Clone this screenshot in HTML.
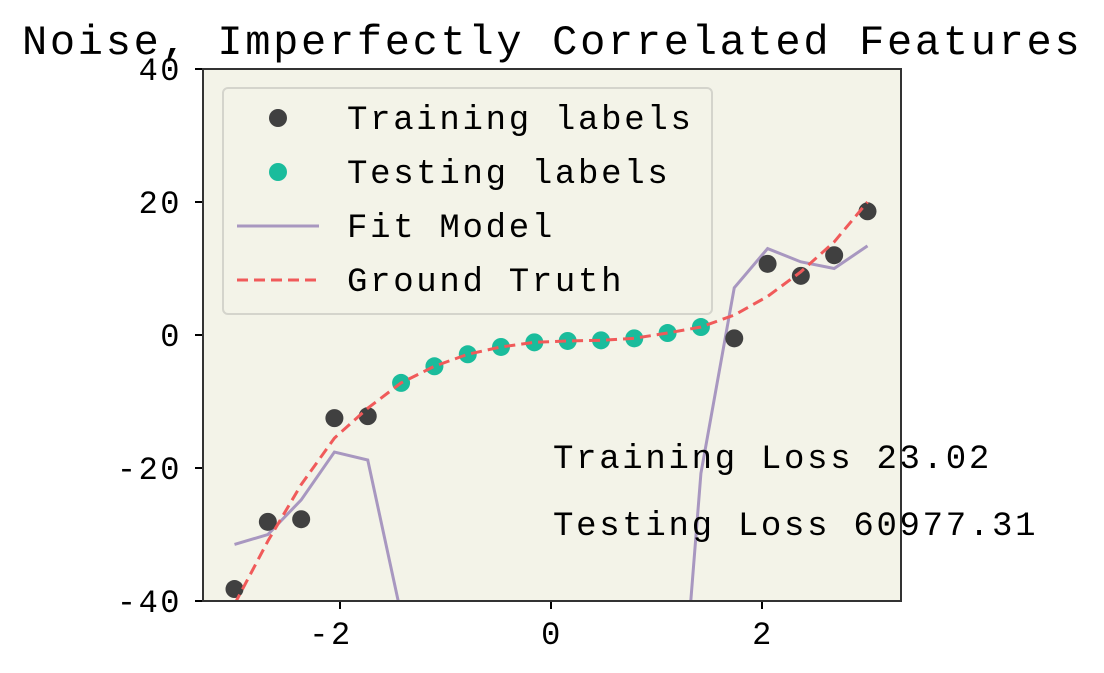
<!DOCTYPE html>
<html><head><meta charset="utf-8"><style>
html,body{margin:0;padding:0;background:#fff;overflow:hidden;width:1104px;height:673px;}
svg{display:block;font-family:"Liberation Mono",monospace;}
.lg{font-size:34px;letter-spacing:2.7px;}
</style></head><body>
<svg id="chart" width="1104" height="673" viewBox="0 0 1104 673">
<defs><clipPath id="clip"><rect x="203" y="69" width="698" height="532"/></clipPath></defs>
<text x="22" y="54" font-size="42" letter-spacing="2.7" fill="#000">Noise, Imperfectly Correlated Features</text>
<rect x="203" y="69" width="698" height="532" fill="#f3f3e8"/>
<g id="ticks"></g>
<g id="marks" clip-path="url(#clip)"></g>
<rect x="203" y="69" width="698" height="532" fill="none" stroke="#333" stroke-width="2"/>
<text class="lg" x="553" y="468" fill="#000">Training Loss 23.02</text>
<text class="lg" x="553" y="535" fill="#000">Testing Loss 60977.31</text>
<g>
<rect x="223" y="88" width="489" height="226" rx="5" fill="#f3f3e8" stroke="#d4d4cc" stroke-width="2"/>
<circle cx="278" cy="118" r="9" fill="#404040"/>
<text class="lg" x="347" y="129">Training labels</text>
<circle cx="278" cy="172" r="9" fill="#1abc9c"/>
<text class="lg" x="347" y="183">Testing labels</text>
<line x1="237" y1="226" x2="319" y2="226" stroke="#a897c0" stroke-width="3"/>
<text class="lg" x="347" y="237">Fit Model</text>
<line x1="237" y1="280" x2="319" y2="280" stroke="#f05a5a" stroke-width="3" stroke-dasharray="11,6"/>
<text class="lg" x="347" y="291">Ground Truth</text>
</g>
</svg>
<script>
const xs = [-3,-2.684,-2.368,-2.053,-1.737,-1.421,-1.105,-0.789,-0.474,-0.158,0.158,0.474,0.789,1.105,1.421,1.737,2.053,2.368,2.684,3];
const trainIdx = [0,1,2,3,4,15,16,17,18,19];
const trainY = [-38.2,-28.1,-27.7,-12.5,-12.2,-0.5,10.7,8.9,12.0,18.6];
const testIdx = [5,6,7,8,9,10,11,12,13,14];
const testY = [-7.2,-4.7,-2.9,-1.8,-1.1,-0.9,-0.8,-0.5,0.3,1.2];
const truthY = [-40.5,-31,-22.5,-15.5,-11,-7.2,-4.7,-2.9,-1.8,-1.1,-0.9,-0.8,-0.5,0.3,1.2,3,5.8,9.5,14,20];
const fitY = [-31.5,-30,-24.8,-17.6,-18.8,-42,-120,-200,-260,-290,-280,-240,-160,-84,-20.8,7.1,13,11,10,13.4];
const xTicks = [-2,0,2];
const yTicks = [-40,-20,0,20,40];
const sx = v => 551 + v*105.5;
const sy = v => 335 - v*6.65;
const NS = 'http://www.w3.org/2000/svg';
const marks = document.getElementById('marks');
const ticks = document.getElementById('ticks');
function mk(tag, attrs, parent){const e=document.createElementNS(NS,tag);for(const k in attrs)e.setAttribute(k,attrs[k]);parent.appendChild(e);return e;}
xTicks.forEach(t=>{
  const l=mk('line',{x1:sx(t),x2:sx(t),y1:601,y2:609,stroke:'#000','stroke-width':2},ticks);
  
  
  const s=String(t);
  const w=s.length*21.7;
  const tx=mk('text',{x:sx(t)-w/2-(t<0?10:0)+1,y:644,'font-size':32,'letter-spacing':2.5},ticks);
  tx.textContent=s;
  
  
});
yTicks.forEach(t=>{
  const l=mk('line',{x1:195,x2:203,y1:sy(t),y2:sy(t),stroke:'#000','stroke-width':2},ticks);
  
  
  const s=String(t);
  const tx=mk('text',{x:182-s.length*21.7,y:sy(t)+11,'font-size':32,'letter-spacing':2.5},ticks);
  tx.textContent=s;
  
  
});
const fit=mk('polyline',{points:xs.map((x,i)=>sx(x)+','+sy(fitY[i])).join(' '),fill:'none',stroke:'#a897c0','stroke-width':3},marks);


trainIdx.forEach((k,i)=>{
  const c=mk('circle',{cx:sx(xs[k]),cy:sy(trainY[i]),r:9,fill:'#404040'},marks);
  
  
});
testIdx.forEach((k,i)=>{
  const c=mk('circle',{cx:sx(xs[k]),cy:sy(testY[i]),r:9,fill:'#1abc9c'},marks);
  
  
});
const truth=mk('polyline',{points:xs.map((x,i)=>sx(x)+','+sy(truthY[i])).join(' '),fill:'none',stroke:'#f05a5a','stroke-width':3,'stroke-dasharray':'11,6'},marks);


</script>
</body></html>
